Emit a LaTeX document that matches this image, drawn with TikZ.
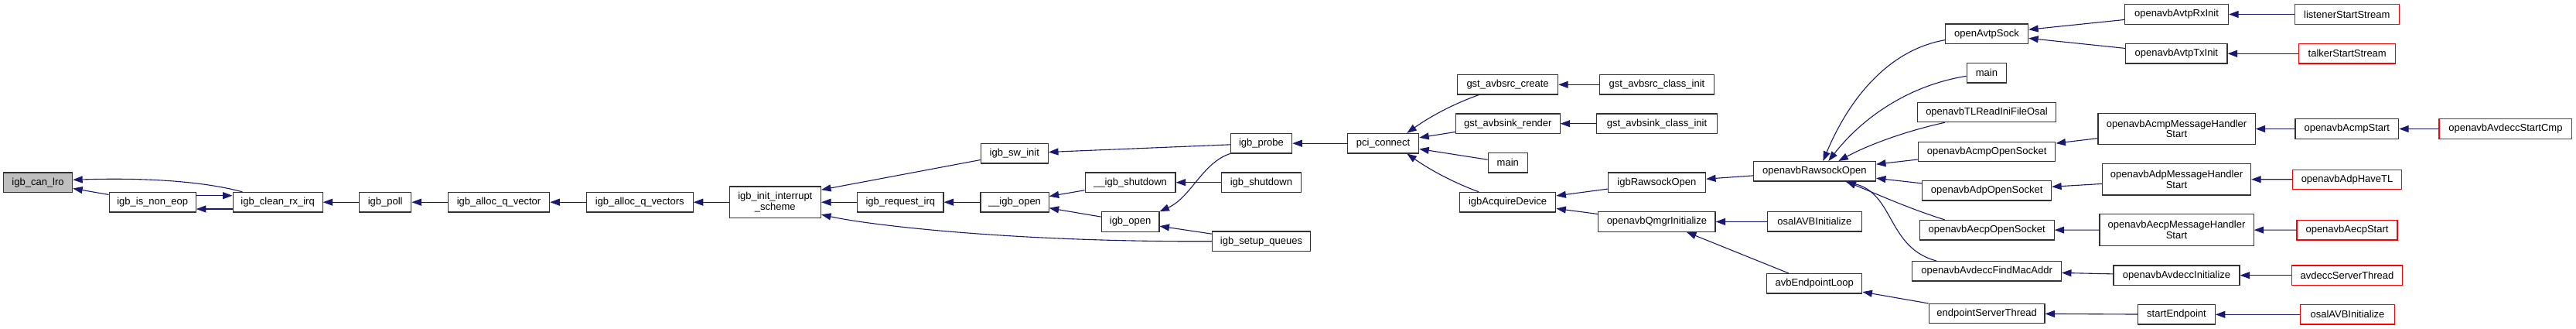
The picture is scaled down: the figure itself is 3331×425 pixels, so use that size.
\documentclass[tikz,border=0pt]{standalone}
\usepackage{fontspec}
\setmainfont{Liberation Sans}
\usetikzlibrary{arrows.meta}
\definecolor{edgec}{HTML}{191970}
\definecolor{boxc}{HTML}{333333}
\definecolor{grey75}{HTML}{BFBFBF}
\begin{document}
\begin{tikzpicture}[x=1pt,y=-1pt,
 box/.style={draw=boxc, line width=1.2pt, fill=white, inner sep=0pt, minimum height=25.4pt, align=center, font=\fontsize{13}{13.5}\selectfont},
 rbox/.style={box, draw=red},
 edge/.style={draw=edgec, line width=1.1pt, -{Triangle[length=12.5pt,width=9pt]}}]
\useasboundingbox (0,0) rectangle (3331,425);
% column 1-7
\node[box, fill=grey75, minimum width=89pt] (canlro) at (49.1,235.7) {igb\_can\_lro};
\node[box, minimum width=112.1pt] (noneop) at (197.2,261.2) {igb\_is\_non\_eop};
\node[box, minimum width=116pt] (clean) at (359.1,261.2) {igb\_clean\_rx\_irq};
\node[box, minimum width=67.2pt] (poll) at (498.2,261.2) {igb\_poll};
\node[box, minimum width=131.4pt] (allocv) at (645,261.2) {igb\_alloc\_q\_vector};
\node[box, minimum width=137.9pt] (allocvs) at (827.2,261.2) {igb\_alloc\_q\_vectors};
\node[box, minimum width=118.2pt, minimum height=40.3pt] (initis) at (1002.3,261.2) {igb\_init\_interrupt\\\_scheme};
\node[box, minimum width=87.2pt] (swinit) at (1311.8,198.3) {igb\_sw\_init};
\node[box, minimum width=111.4pt] (reqirq) at (1164.3,261.2) {igb\_request\_irq};
\node[box, minimum width=88.2pt] (uopen) at (1312,261.2) {\_\_igb\_open};
\node[box, minimum width=116.8pt] (ushut) at (1461.6,235.7) {\_\_igb\_shutdown};
\node[box, minimum width=74.6pt] (open) at (1461.6,286.5) {igb\_open};
\node[box, minimum width=79.3pt] (probe) at (1631,185.2) {igb\_probe};
\node[box, minimum width=103.2pt] (shut) at (1630.9,235.7) {igb\_shutdown};
\node[box, minimum width=127.1pt] (setupq) at (1631,311.7) {igb\_setup\_queues};
\node[box, minimum width=92.1pt] (pci) at (1788.6,185.2) {pci\_connect};
\node[box, minimum width=130pt] (srccr) at (1949.6,109.3) {gst\_avbsrc\_create};
\node[box, minimum width=134.6pt] (sinkr) at (1949.8,159.7) {gst\_avbsink\_render};
\node[box, minimum width=51.1pt] (mainA) at (1949.8,210.3) {main};
\node[box, minimum width=124.3pt] (acq) at (1949.6,261.2) {igbAcquireDevice};
\node[box, minimum width=148.6pt] (srcci) at (2142.5,109.3) {gst\_avbsrc\_class\_init};
\node[box, minimum width=155.8pt] (sinkci) at (2142.5,159.7) {gst\_avbsink\_class\_init};
\node[box, minimum width=126.1pt] (igbraw) at (2142.4,235.7) {igbRawsockOpen};
\node[box, minimum width=151.1pt] (qmgr) at (2142.4,286.5) {openavbQmgrInitialize};
\node[box, minimum width=157.9pt] (raw) at (2346.4,221.3) {openavbRawsockOpen};
\node[box, minimum width=121.4pt] (osalA) at (2346.4,286.3) {osalAVBInitialize};
\node[box, minimum width=123.3pt] (eploop) at (2346.2,366.3) {avbEndpointLoop};
\node[box, minimum width=107.1pt] (avtpsock) at (2569,43.8) {openAvtpSock};
\node[box, minimum width=51.4pt] (mainB) at (2568.9,94.3) {main};
\node[box, minimum width=179.3pt] (tlread) at (2569,145) {openavbTLReadIniFileOsal};
\node[box, minimum width=177.5pt] (acmpos) at (2569.1,195.8) {openavbAcmpOpenSocket};
\node[box, minimum width=166.8pt] (adpos) at (2569.1,246.3) {openavbAdpOpenSocket};
\node[box, minimum width=174pt] (aecpos) at (2569.1,297.2) {openavbAecpOpenSocket};
\node[box, minimum width=192.5pt] (findmac) at (2569.1,350.3) {openavbAvdeccFindMacAddr};
\node[box, minimum width=149.6pt] (epserver) at (2569.1,405) {endpointServerThread};
\node[box, minimum width=134pt] (rxinit) at (2814.5,18.5) {openavbAvtpRxInit};
\node[box, minimum width=131.2pt] (txinit) at (2814.3,69.3) {openavbAvtpTxInit};
\node[rbox, minimum width=135.2pt] (listener) at (3034.8,18.5) {listenerStartStream};
\node[rbox, minimum width=124.8pt] (talker) at (3035.2,69.3) {talkerStartStream};
\node[box, minimum width=203.2pt, minimum height=40.4pt] (acmpmhs) at (2814.5,166.5) {openavbAcmpMessageHandler\\Start};
\node[box, minimum width=133.6pt] (acmpstart) at (3034.8,166.5) {openavbAcmpStart};
\node[rbox, minimum width=171.9pt] (startcmp) at (3239.9,166.5) {openavbAvdeccStartCmp};
\node[box, minimum width=192pt, minimum height=40.7pt] (adpmhs) at (2814.5,231.7) {openavbAdpMessageHandler\\Start};
\node[rbox, minimum width=140.4pt] (adphave) at (3035,231.8) {openavbAdpHaveTL};
\node[box, minimum width=199.2pt, minimum height=40.6pt] (aecpmhs) at (2814.5,297) {openavbAecpMessageHandler\\Start};
\node[rbox, minimum width=130pt] (aecpstart) at (3035,297.2) {openavbAecpStart};
\node[box, minimum width=163pt] (avdinit) at (2814.5,355.7) {openavbAvdeccInitialize};
\node[rbox, minimum width=142.9pt] (avdserver) at (3035,355.7) {avdeccServerThread};
\node[box, minimum width=99.4pt] (startep) at (2814.5,406.3) {startEndpoint};
\node[rbox, minimum width=121.9pt] (osalB) at (3035.5,406.3) {osalAVBInitialize};
% edges
\draw[edge] (noneop) -- (canlro);
\draw[edge] ([xshift=13pt]clean.north west) .. controls (270,236) and (200,229) .. ([yshift=3.4pt]canlro.east);
\draw[edge] ([yshift=8.5pt]noneop.east) -- ([yshift=8.5pt]clean.west);
\draw[edge] ([yshift=-8.8pt]clean.west) -- ([yshift=-8.8pt]noneop.east);
\draw[edge] (poll) -- (clean);
\draw[edge] (allocv) -- (poll);
\draw[edge] (allocvs) -- (allocv);
\draw[edge] (initis) -- (allocvs);
\draw[edge] (swinit) -- ([yshift=16pt]initis.east);
\draw[edge] (reqirq) -- (initis);
\draw[edge] (setupq.west) .. controls (1320,313) and (1130,292) .. ([yshift=-16pt]initis.east);
\draw[edge] (uopen) -- (reqirq);
\draw[edge] (ushut) -- (uopen);
\draw[edge] (open) -- (uopen);
\draw[edge] (probe) -- (swinit);
\draw[edge] (shut) -- (ushut);
\draw[edge] (probe.south west) .. controls (1555,210) and (1540,255) .. (open.north east);
\draw[edge] (setupq) -- (open);
\draw[edge] (pci) -- (probe);
\draw[edge] ([xshift=28.3pt]srccr.south west) .. controls (1880,134) and (1850,150) .. ([xshift=-16pt]pci.north east);
\draw[edge] (sinkr) -- (pci);
\draw[edge] (mainA) -- (pci);
\draw[edge] ([xshift=25.4pt]acq.north west) .. controls (1880,236) and (1850,220) .. ([xshift=-16pt]pci.south east);
\draw[edge] (srcci) -- (srccr);
\draw[edge] (sinkci) -- (sinkr);
\draw[edge] (igbraw) -- (acq);
\draw[edge] (qmgr) -- (acq);
\draw[edge] (raw) -- (igbraw);
\draw[edge] (osalA) -- (qmgr);
\draw[edge] ([xshift=29pt]eploop.north west) -- ([xshift=114.6pt]qmgr.south west);
\draw[edge] ([yshift=-7.9pt]avtpsock.west) .. controls (2440,65) and (2390,130) .. ([xshift=90.5pt]raw.north west);
\draw[edge] ([yshift=-4pt]mainB.west) .. controls (2470,110) and (2410,150) .. ([xshift=97.5pt]raw.north west);
\draw[edge] ([xshift=36pt]tlread.south west) .. controls (2470,168) and (2420,185) .. ([xshift=110.5pt]raw.north west);
\draw[edge] (acmpos) -- (raw);
\draw[edge] (adpos) -- (raw);
\draw[edge] ([xshift=33.3pt]aecpos.north west) .. controls (2470,270) and (2430,252) .. ([xshift=120.5pt]raw.south west);
\draw[edge] ([xshift=31.7pt]findmac.north west) .. controls (2440,320) and (2450,250) .. ([xshift=119.5pt]raw.south west);
\draw[edge] (epserver) -- (eploop);
\draw[edge] (rxinit) -- (avtpsock);
\draw[edge] (txinit) -- (avtpsock);
\draw[edge] (listener) -- (rxinit);
\draw[edge] (talker) -- (txinit);
\draw[edge] (acmpmhs) -- (acmpos);
\draw[edge] (acmpstart) -- (acmpmhs);
\draw[edge] (startcmp) -- (acmpstart);
\draw[edge] (adpmhs) -- (adpos);
\draw[edge] (adphave) -- (adpmhs);
\draw[edge] (aecpmhs) -- (aecpos);
\draw[edge] (aecpstart) -- (aecpmhs);
\draw[edge] (avdinit) -- (findmac);
\draw[edge] (avdserver) -- (avdinit);
\draw[edge] (startep) -- (epserver);
\draw[edge] (osalB) -- (startep);
\end{tikzpicture}
\end{document}
